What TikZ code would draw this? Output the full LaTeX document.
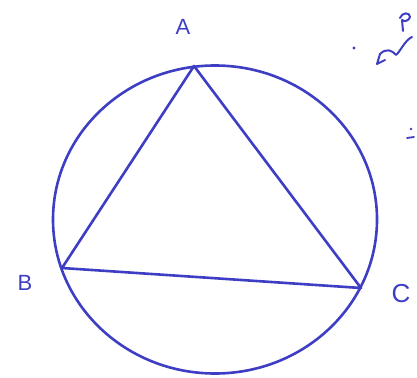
\documentclass[tikz,border=0pt]{standalone}
\usepackage{fontspec}
\setmainfont{Liberation Sans}
\definecolor{ink}{RGB}{62,62,196}
\begin{document}
\begin{tikzpicture}[x=1pt,y=-1pt,
  stroke/.style={draw=ink,line width=2.6pt,line join=round,line cap=round},
  lbl/.style={text=ink,font=\fontsize{22}{22}\selectfont,inner sep=0pt}]
\useasboundingbox (0,0) rectangle (417,377);
\draw[stroke] (215,219.5) ellipse [x radius=162,y radius=154];
\coordinate (A) at (194,66);
\coordinate (B) at (62,268);
\coordinate (C) at (361,288);
\draw[stroke] (A) -- (B) -- (C) -- cycle;
\node[lbl] (la) at (183,27) {A};
\node[lbl] (lb) at (25,283) {B};
\node[lbl,font=\fontsize{26}{26}\selectfont] (lc) at (401,294) {C};
% scribbles top right
\fill[ink] (354,48) circle (1.6);
\draw[stroke,line width=2pt] (385,60) -- (377,64) -- (380,54) .. controls (386,48) and (392,50) .. (396,55) .. controls (400,52) and (405,40) .. (412,37);
\draw[stroke,line width=2pt] (400,18) .. controls (402,12) and (410,12) .. (410,17) .. controls (409,21) and (404,22) .. (402,20) -- (403,31);
\fill[ink] (411,129) circle (1.4);
\draw[stroke,line width=1.8pt] (407,138) -- (414,137);
\end{tikzpicture}
\end{document}
